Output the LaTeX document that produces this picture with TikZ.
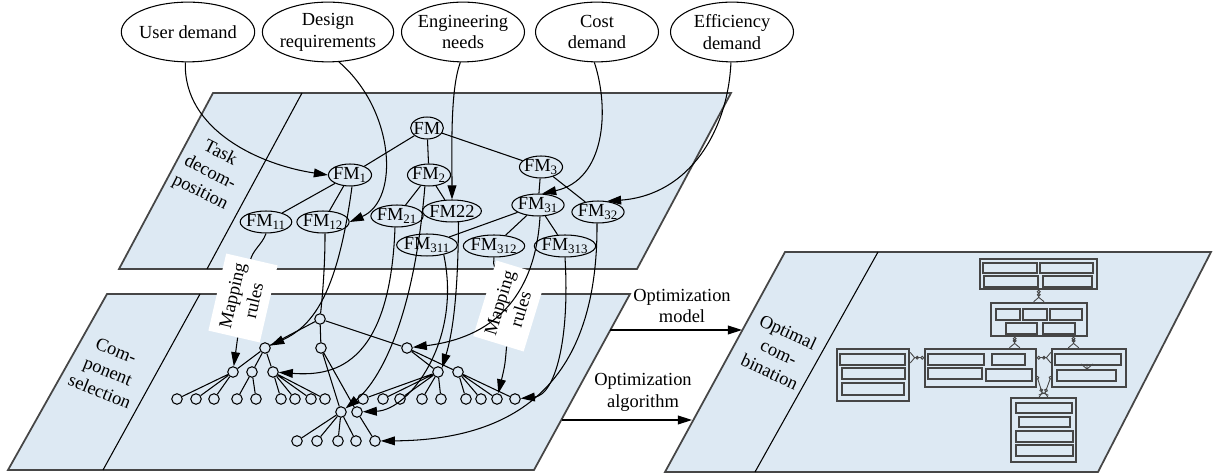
\documentclass[tikz,border=0pt]{standalone}
\usepackage{fontspec}
\setmainfont{Liberation Serif}
\usetikzlibrary{shapes.geometric,arrows.meta,calc}

\definecolor{panelblue}{RGB}{221,233,243}
\definecolor{edgegray}{RGB}{70,70,70}

\tikzstyle{panelbox} = [
fill=panelblue,
draw=edgegray,
line width=1pt
]
\tikzstyle{divider} = [
draw=black,
line width=0.6pt
]
\tikzstyle{paneltext} = [
align=center
]
\tikzstyle{demand} = [
ellipse,
draw,
align=center,
inner sep=-1pt,
minimum width=70pt,
minimum height=34pt,
line width=0.6pt
]
\tikzstyle{fmnode} = [
ellipse,
draw,
inner sep=-1pt,
minimum height=12.5pt,
line width=0.6pt
]
\tikzstyle{comp} = [
circle,
draw,
fill=panelblue,
minimum size=6pt,
inner sep=0pt,
line width=0.6pt
]
\tikzstyle{maprule} = [
rectangle,
fill=white,
align=center,
minimum width=45pt,
minimum height=30pt,
inner sep=1pt
]
\tikzstyle{treeline} = [
line width=0.6pt
]
\tikzstyle{arrow} = [
line width=0.6pt,
-{Triangle[length=8pt,width=5pt]}
]
\tikzstyle{umlbox} = [
rectangle,
draw=edgegray,
line width=0.9pt,
inner sep=0pt
]
\tikzstyle{fieldbox} = [
draw=edgegray,
line width=0.8pt
]
\tikzstyle{erlink} = [
draw=edgegray,
line width=0.5pt,
{Circle[open,length=2.2pt]}-{Circle[open,length=2.2pt] Straight Barb[reversed,length=2.5pt,width=6pt]}
]

\begin{document}
\begin{tikzpicture}[
x=0.02cm,
y=-0.02cm,
font=\fontsize{10.5}{12.5}\selectfont
]
\useasboundingbox (0,0) rectangle (1213,475);

% Panels
\draw [panelbox] (213,93) -- (731,93) -- (637,269) -- (119,269) -- cycle;
\draw [divider] (302,93) -- (207,269);
\draw [panelbox] (107,294) -- (630,294) -- (534,470) -- (8,470) -- cycle;
\draw [divider] (200,294) -- (103,470);
\draw [panelbox] (785,252) -- (1211,252) -- (1098,472) -- (665,472) -- cycle;
\draw [divider] (878,252) -- (755,472);

\node (task) [paneltext, rotate=-27] at (210,173) {Task\\decom-\\position};
\node (compsel) [paneltext, rotate=-22] at (108,371) {Com-\\ponent\\selection};
\node (optcomb) [paneltext, rotate=-25] at (779,352) {Optimal\\com-\\bination};

% Demands
\node (user) [demand] at (188,32) {User demand};
\node (design) [demand] at (328,32) {Design\\requirements};
\node (engineering) [demand] at (463,32) {Engineering\\needs};
\node (cost) [demand] at (597,32) {Cost\\demand};
\node (efficiency) [demand] at (732,32) {Efficiency\\demand};

% Function modules
\node (fm) [fmnode] at (427,128) {FM};
\node (fm1) [fmnode] at (350,175) {FM\textsubscript{1}};
\node (fm2) [fmnode] at (429,175) {FM\textsubscript{2}};
\node (fm3) [fmnode] at (541,167) {FM\textsubscript{3}};
\node (fm11) [fmnode] at (266,222) {FM\textsubscript{11}};
\node (fm12) [fmnode] at (323,222) {FM\textsubscript{12}};
\node (fm21) [fmnode] at (397,216) {FM\textsubscript{21}};
\node (fm22) [fmnode] at (452,211) {FM22};
\node (fm31) [fmnode] at (538,205) {FM\textsubscript{31}};
\node (fm32) [fmnode] at (598,212) {FM\textsubscript{32}};
\node (fm311) [fmnode] at (427,245) {FM\textsubscript{311}};
\node (fm312) [fmnode] at (494,246) {FM\textsubscript{312}};
\node (fm313) [fmnode] at (565,246) {FM\textsubscript{313}};

\draw [treeline] (fm) -- (fm1);
\draw [treeline] (fm) -- (fm2);
\draw [treeline] (fm) -- (fm3);
\draw [treeline] (fm1) -- (fm11);
\draw [treeline] (fm1) -- (fm12);
\draw [treeline] (fm2) -- (fm21);
\draw [treeline] (fm2) -- (fm22);
\draw [treeline] (fm3) -- (fm31);
\draw [treeline] (fm3) -- (fm32);
\draw [treeline] (fm31) -- (fm311);
\draw [treeline] (fm31) -- (fm312);
\draw [treeline] (fm31) -- (fm313);

\draw [arrow] (user.-95) .. controls (183,130) and (260,165) .. (fm1.west);
\draw [arrow] (design.-70) .. controls (395,110) and (400,200) .. (fm12.east);
\draw [arrow] (engineering.-95) .. controls (450,90) and (452,150) .. (fm22.north);
\draw [arrow] (cost.-95) .. controls (610,110) and (605,180) .. (fm31.70);
\draw [arrow] (efficiency.-92) .. controls (728,130) and (690,195) .. (fm32.50);

% Components
\node (cA) [comp] at (320,319) {};
\node (cB) [comp] at (265,348) {};
\node (cC) [comp] at (321,348) {};
\node (cF) [comp] at (407,348) {};
\node (b1) [comp] at (233,372) {};
\node (b2) [comp] at (252,372) {};
\node (b3) [comp] at (273,372) {};
\node (cG) [comp] at (438,372) {};
\node (cH) [comp] at (458,372) {};
\node (cD) [comp] at (341,412) {};
\node (cE) [comp] at (357,412) {};

\node (lf1) [comp] at (177,399) {};
\node (lf2) [comp] at (196,399) {};
\node (lf3) [comp] at (214,399) {};
\node (lf4) [comp] at (237,399) {};
\node (lf5) [comp] at (256,399) {};
\node (lf6) [comp] at (281,399) {};
\node (lf7) [comp] at (295,399) {};
\node (lf8) [comp] at (311,399) {};
\node (lf9) [comp] at (325,399) {};
\node (lf10) [comp] at (363,399) {};
\node (lf11) [comp] at (383,399) {};
\node (lf12) [comp] at (400,399) {};
\node (lf13) [comp] at (422,399) {};
\node (lf14) [comp] at (441,399) {};
\node (lf15) [comp] at (466,399) {};
\node (lf16) [comp] at (481,399) {};
\node (lf17) [comp] at (497,399) {};
\node (lf18) [comp] at (515,399) {};

\node (bt1) [comp] at (297,441) {};
\node (bt2) [comp] at (317,441) {};
\node (bt3) [comp] at (338,441) {};
\node (bt4) [comp] at (356,441) {};
\node (bt5) [comp] at (375,441) {};

\draw [treeline] (cA) -- (cB) (cA) -- (cC) (cA) -- (cF);
\draw [treeline] (cB) -- (b1) (cB) -- (b2) (cB) -- (b3);
\draw [treeline] (cC) -- (cD) (cC) -- (cE);
\draw [treeline] (cF) -- (cG) (cF) -- (cH);
\draw [treeline] (b1) -- (lf1) (b1) -- (lf2) (b1) -- (lf3);
\draw [treeline] (b2) -- (lf4) (b2) -- (lf5);
\draw [treeline] (b3) -- (lf6) (b3) -- (lf7) (b3) -- (lf8) (b3) -- (lf9);
\draw [treeline] (cG) -- (lf10) (cG) -- (lf11) (cG) -- (lf12) (cG) -- (lf13) (cG) -- (lf14);
\draw [treeline] (cH) -- (lf15) (cH) -- (lf16) (cH) -- (lf17) (cH) -- (lf18);
\draw [treeline] (cD) -- (bt1) (cD) -- (bt2) (cD) -- (bt3) (cD) -- (bt4);
\draw [treeline] (cE) -- (bt5);

% Mapping
\coordinate (m1top) at (250,262);
\coordinate (m2top) at (497,275);
\draw [treeline] (fm11.south) .. controls (262,245) and (252,250) .. (m1top);
\draw [treeline] (fm312.south) .. controls (493,262) .. (m2top);
\draw [treeline] (fm12.-80) .. controls (325,270) and (322,300) .. (cA);
\draw [arrow] (fm1.-80) .. controls (338,290) and (315,325) .. (cB);
\draw [arrow] (fm21.-100) .. controls (390,370) and (330,376) .. (b3);
\draw [arrow] (fm2.-110) .. controls (413,330) and (375,385) .. (cD);
\draw [arrow] (fm22.-60) .. controls (458,300) and (452,335) .. (cG.north east);
\draw [arrow] (fm311.-30) .. controls (462,340) and (410,410) .. (cE);
\draw [arrow] (fm313.south) .. controls (570,340) and (555,395) .. (lf18);
\draw [arrow] (fm32.-95) .. controls (598,380) and (520,440) .. (bt5);

\node (map1) [maprule, rotate=77] at (243,298) {Mapping\\rules};
\node (map2) [maprule, rotate=73] at (510,306) {Mapping\\rules};
\draw [arrow] (map1) -- (b1);
\draw [arrow] (map2) .. controls (505,365) .. (lf17);
\draw [arrow] (fm31.-80) .. controls (535,300) and (490,338) .. (cF);

% Optimization
\coordinate (selR1) at (610,330);
\coordinate (optL1) at (742,330);
\coordinate (selR2) at (562,420);
\coordinate (optL2) at (692,420);
\node (optmodel) [paneltext] at (682,306) {Optimization\\model};
\node (optalgo) [paneltext] at (643,392) {Optimization\\algorithm};
\draw [arrow] (selR1) -- (optL1);
\draw [arrow] (selR2) -- (optL2);

% Optimal combination
\node (boxT) [umlbox, minimum width=66.6pt, minimum height=17.1pt] at (1038.5,274) {};
\node (boxM) [umlbox, minimum width=54.6pt, minimum height=18.8pt] at (1039,319.5) {};
\node (boxL) [umlbox, minimum width=41pt, minimum height=29.6pt] at (873,375) {};
\node (boxC) [umlbox, minimum width=63.2pt, minimum height=21.6pt] at (980.5,368) {};
\node (boxR) [umlbox, minimum width=42.1pt, minimum height=21.6pt] at (1089,368) {};
\node (boxB) [umlbox, minimum width=37pt, minimum height=36.4pt] at (1043.5,430) {};

\draw [fieldbox] (983,263) rectangle (1037,273) (1040,263) rectangle (1093,273);
\draw [fieldbox] (984,276) rectangle (1038,287) (1043,276) rectangle (1092,287);
\draw [fieldbox] (996,309) rectangle (1020,320) (1023,309) rectangle (1047,320) (1050,309) rectangle (1082,320);
\draw [fieldbox] (1006,323) rectangle (1037,334) (1043,323) rectangle (1075,334);
\draw [fieldbox] (840,354) rectangle (905,365) (842,368) rectangle (905,379) (842,383) rectangle (904,395);
\draw [fieldbox] (928,354) rectangle (984,365) (992,354) rectangle (1025,365);
\draw [fieldbox] (928,368) rectangle (982,379) (986,369) rectangle (1032,381);
\draw [fieldbox] (1055,354) rectangle (1121,365) (1057,370) rectangle (1116,381);
\draw [fieldbox] (1016,403) rectangle (1072,413) (1019,417) rectangle (1070,427);
\draw [fieldbox] (1016,431) rectangle (1073,442) (1016,445) rectangle (1073,456);
\draw [fieldbox, line width=0.5pt] (1081,364) -- (1087,369) -- (1093,364) (1087,364) -- (1087,369);

\coordinate (mc) at ($(boxM.south west)!0.25!(boxM.south east)$);
\coordinate (mr) at ($(boxM.south west)!0.854!(boxM.south east)$);
\coordinate (cl) at ($(boxC.north west)!0.24!(boxC.south west)$);
\coordinate (cr) at ($(boxC.north east)!0.24!(boxC.south east)$);
\coordinate (cb) at ($(boxC.north east)!0.7!(boxC.south east)$);
\coordinate (rb) at ($(boxR.north west)!0.7!(boxR.south west)$);
\draw [erlink] (boxT) -- (boxM);
\draw [erlink] (mc) -- (mc |- boxC.north);
\draw [erlink] (mr) -- (mr |- boxR.north);
\draw [erlink] (cl) -- (cl -| boxL.east);
\draw [erlink] (cr) -- (cr -| boxR.west);
\draw [erlink] (cb) -- (boxB.north);
\draw [erlink] (rb) -- (boxB.north);

\end{tikzpicture}
\end{document}
